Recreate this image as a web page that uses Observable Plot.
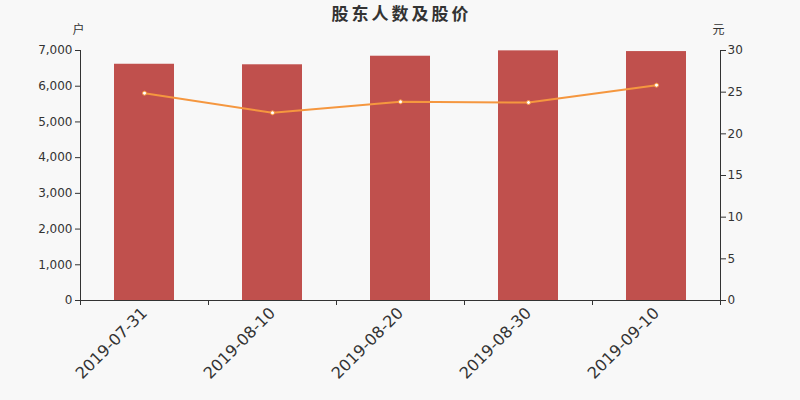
<!DOCTYPE html>
<html>
<head>
<meta charset="utf-8">
<script src="https://cdn.jsdelivr.net/npm/d3@7"></script>
<script src="https://cdn.jsdelivr.net/npm/@observablehq/plot@0.6"></script>
<style>
  html, body { margin: 0; padding: 0; background: #f8f8f8; }
  #wrap { position: relative; width: 800px; height: 400px; font-family: "DejaVu Sans", "Noto Sans CJK SC", sans-serif; }
  #title { position: absolute; left: 0; top: 0px; width: 800px; text-align: center; font-size: 17px; font-weight: bold; color: #333; font-family: "Noto Sans CJK SC", sans-serif; letter-spacing: 3px; text-indent: 3px; }
</style>
</head>
<body>
<div id="wrap">
  <div id="title">股东人数及股价</div>
  <div id="chart"></div>
</div>
<script>
const dates = ["2019-07-31", "2019-08-10", "2019-08-20", "2019-08-30", "2019-09-10"];
const holders = [6615, 6600, 6840, 6990, 6970];
const prices = [24.88, 22.52, 23.84, 23.76, 25.84];
const leftTicks = [0, 1000, 2000, 3000, 4000, 5000, 6000, 7000];
const rightTicks = [0, 5, 10, 15, 20, 25, 30];

const yMax = 7000, rMax = 30;
const k = yMax / rMax;
const data = dates.map((d, i) => ({date: d, holders: holders[i], price: prices[i], py: prices[i] * k}));

const W = 800, H = 400, mL = 80, mR = 80, mT = 50, mB = 100;
const half = (W - mL - mR) / dates.length / 2;
const textColor = "#333";
const tickLen = yMax * 5 / (H - mT - mB);

const chart = Plot.plot({
  width: W, height: H,
  marginLeft: mL, marginRight: mR, marginTop: mT, marginBottom: mB,
  style: {background: "transparent", fontFamily: "DejaVu Sans, sans-serif", color: textColor},
  x: {type: "band", domain: dates, padding: 0, axis: null},
  y: {domain: [0, yMax], axis: null},
  marks: [
    Plot.barY(data, {x: "date", y: "holders", fill: "#c0504d", insetLeft: 34, insetRight: 34}),
    Plot.line(data, {x: "date", y: "py", stroke: "#f5973f", strokeWidth: 2}),
    Plot.dot(data, {x: "date", y: "py", r: 2, fill: "#fff", stroke: "#f5973f", strokeWidth: 1}),
    // left axis
    Plot.axisY({anchor: "left", ticks: leftTicks, tickSize: 5, tickPadding: 3, tickFormat: d3.format(","), fontSize: 12, label: null, stroke: textColor}),
    Plot.ruleX([dates[0]], {x: d => d, dx: -half, y1: 0, y2: yMax, stroke: textColor}),
    // right axis
    Plot.axisY({anchor: "right", ticks: rightTicks.map(v => v * k), tickSize: 5, tickPadding: 2, tickFormat: v => String(Math.round(v / k)), fontSize: 12, label: null, stroke: textColor}),
    Plot.ruleX([dates[dates.length - 1]], {x: d => d, dx: half, y1: 0, y2: yMax, stroke: textColor}),
    // x axis line and ticks at band edges
    Plot.ruleY([0], {stroke: textColor}),
    Plot.ruleX(dates, {x: d => d, dx: -half, y1: 0, y2: -tickLen, stroke: textColor}),
    Plot.ruleX([dates[dates.length - 1]], {x: d => d, dx: half, y1: 0, y2: -tickLen, stroke: textColor}),
    // x tick labels
    Plot.text(dates, {x: d => d, y: 0, text: d => d, rotate: -45, textAnchor: "end", lineAnchor: "middle", dx: 0, dy: 10, fontSize: 16, fill: textColor}),
    // unit labels
    Plot.text(["户"], {frameAnchor: "top-left", text: d => d, textAnchor: "middle", dx: -2, dy: -25, fontSize: 12, fill: textColor, fontFamily: "Noto Sans CJK SC"}),
    Plot.text(["元"], {frameAnchor: "top-right", text: d => d, textAnchor: "middle", dx: -2, dy: -25, fontSize: 12, fill: textColor, fontFamily: "Noto Sans CJK SC"})
  ]
});
document.getElementById("chart").appendChild(chart);
</script>
</body>
</html>
